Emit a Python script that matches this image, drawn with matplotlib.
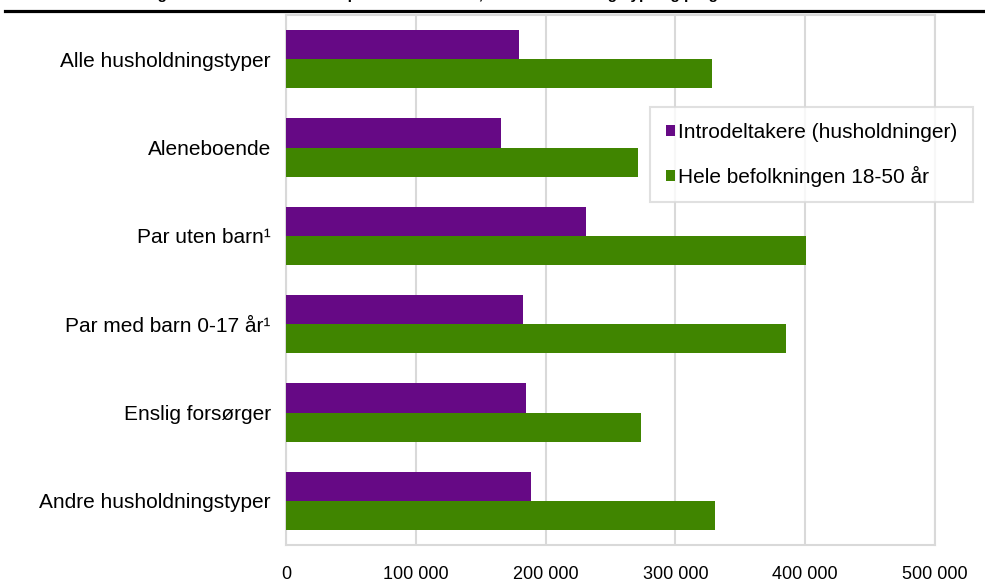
import matplotlib
matplotlib.use('Agg')
import matplotlib.pyplot as plt
from matplotlib.lines import Line2D
import numpy as np

# data
categories = ['Alle husholdningstyper', 'Aleneboende', 'Par uten barn¹',
              'Par med barn 0-17 år¹', 'Enslig forsørger', 'Andre husholdningstyper']
introdeltakere = [179500, 166000, 231000, 182500, 185000, 189000]
hele_befolkningen = [328000, 271000, 401000, 385000, 273500, 330500]
series_labels = ['Introdeltakere (husholdninger)', 'Hele befolkningen 18-50 år']
xticks = [0, 100000, 200000, 300000, 400000, 500000]
xtick_labels = ['0', '100 000', '200 000', '300 000', '400 000', '500 000']

purple = '#660985'
green = '#408500'
grid_col = '#d9d9d9'

plt.rcParams['font.family'] = ['Liberation Sans', 'DejaVu Sans']

fig = plt.figure(figsize=(9.85, 5.87), dpi=100)
ax = fig.add_axes([286 / 985, 1 - 545 / 587, (935 - 286) / 985, (545 - 15) / 587])

y = np.arange(len(categories))
h = 0.33
ax.barh(y - h / 2, introdeltakere, height=h, color=purple, label=series_labels[0], zorder=3)
ax.barh(y + h / 2, hele_befolkningen, height=h, color=green, label=series_labels[1], zorder=3)

ax.set_ylim(len(categories) - 0.5, -0.5)
ax.set_xlim(0, 500000)
ax.set_yticks(y)
ax.set_yticklabels(categories, fontsize=15)
ax.set_xticks(xticks)
ax.set_xticklabels(xtick_labels, fontsize=13)
ax.tick_params(length=0, pad=11)
ax.tick_params(axis='x', pad=15)
ax.grid(axis='x', color=grid_col, linewidth=1.5, zorder=0)
for s in ax.spines.values():
    s.set_color(grid_col)
    s.set_linewidth(1.5)

leg = ax.legend(loc='upper left', bbox_to_anchor=((650 - 286) / 649, 1 - (107 - 15) / 530),
                fontsize=15, frameon=True, fancybox=False, handlelength=0.45,
                handleheight=0.45, handletextpad=0.15, labelspacing=1.15,
                borderpad=0.75, borderaxespad=0)
leg.get_frame().set_edgecolor(grid_col)
leg.get_frame().set_linewidth(1.5)

# avkuttet tittel og linje øverst
fig.text(0.5 * (150 + 755) / 985, 1 + 1 / 587,
         'Figur 4.2. Inntekt etter skatt per forbruksenhet, etter husholdningstype og programår',
         ha='center', va='baseline', fontsize=11, weight='bold')
fig.add_artist(Line2D([5 / 985, 1], [1 - 11 / 587, 1 - 11 / 587],
                      color='black', linewidth=2.3, transform=fig.transFigure))

fig.savefig('out.png', dpi=100)
